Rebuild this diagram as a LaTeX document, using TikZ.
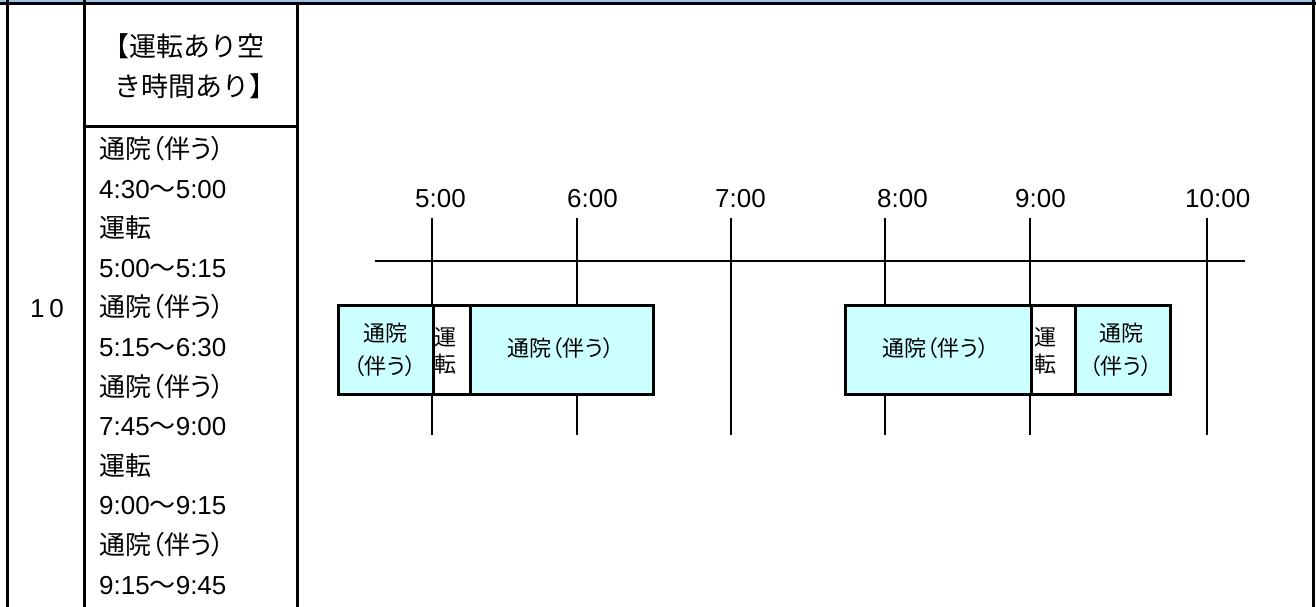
\documentclass[tikz,border=0pt]{standalone}
\usepackage{fontspec}
\setmainfont{Liberation Sans}
\newfontfamily\jp[RawFeature=+palt]{Noto Sans CJK JP}
\newfontfamily\jpf{Noto Sans CJK JP}
\definecolor{bandblue}{HTML}{9DC3E6}
\definecolor{cyanfill}{HTML}{CCFFFF}
\tikzset{
  border/.style={line width=3pt},
  axisline/.style={line width=2pt},
  segbox/.style={draw, line width=2.7pt, inner sep=0pt, anchor=north west},
  nursebox/.style={segbox, fill=cyanfill},
  drivebox/.style={segbox, fill=white},
  coltext/.style={inner sep=0pt, anchor=base west, font=\fontsize{26}{26}\selectfont},
  headtext/.style={inner sep=0pt, anchor=base, font=\jpf\fontsize{27}{27}\selectfont},
  ticktext/.style={inner sep=0pt, anchor=base west, font=\fontsize{26}{26}\selectfont},
  boxtext/.style={inner sep=0pt, anchor=base, font=\jp\fontsize{22}{22}\selectfont},
}
\begin{document}
\begin{tikzpicture}[x=1pt,y=-1pt]
\useasboundingbox (0,0) rectangle (1316,607);
% top band
\fill[bandblue] (0,0) rectangle (1316,2.2);
\draw[line width=2.5pt] (0,3.5) -- (1316,3.5);
% table lines
\draw[border] (7.4,0) -- (7.4,607);
\draw[border] (84.5,0) -- (84.5,607);
\draw[border] (297.5,3.3) -- (297.5,607);
\draw[border] (1313.4,0) -- (1313.4,607);
\draw[border] (84.5,127) -- (297.5,127);
% header
\node[headtext] (h1) at (183,57) {【運転あり空};
\node[headtext] (h2) at (195,97) {き時間あり】};
% row number
\node[inner sep=0pt, anchor=base, font=\fontsize{26}{26}\selectfont] (num) at (47,317) {1\kern5pt0};
% schedule list
\node[coltext] (l1) at (99,158.4) {\jp 通院（伴う）};
\node[coltext] (l2) at (99,198.0) {4:30{\jpf 〜}5:00};
\node[coltext] (l3) at (99,237.6) {\jp 運転};
\node[coltext] (l4) at (99,277.2) {5:00{\jpf 〜}5:15};
\node[coltext] (l5) at (99,316.8) {\jp 通院（伴う）};
\node[coltext] (l6) at (99,356.4) {5:15{\jpf 〜}6:30};
\node[coltext] (l7) at (99,396.0) {\jp 通院（伴う）};
\node[coltext] (l8) at (99,435.6) {7:45{\jpf 〜}9:00};
\node[coltext] (l9) at (99,475.2) {\jp 運転};
\node[coltext] (l10) at (99,514.8) {9:00{\jpf 〜}9:15};
\node[coltext] (l11) at (99,554.4) {\jp 通院（伴う）};
\node[coltext] (l12) at (99,594.0) {9:15{\jpf 〜}9:45};
% timeline
\draw[axisline] (375,261) -- (1245,261);
\foreach \x/\lx/\t in {432/415/5:00, 577/567/6:00, 731/715/7:00, 885/877/8:00, 1030/1015/9:00, 1207/1185/10:00}{
  \draw[axisline] (\x,218) -- (\x,435);
  \node[ticktext] (t\x) at (\lx,207) {\t};
}
% segments
\node[nursebox, minimum width=95pt, minimum height=89pt] (b1) at (337,304) {};
\node[drivebox, minimum width=37pt, minimum height=89pt] (b2) at (432,304) {};
\node[nursebox, minimum width=183pt, minimum height=89pt] (b3) at (469,304) {};
\node[nursebox, minimum width=186pt, minimum height=89pt] (b4) at (844,304) {};
\node[drivebox, minimum width=44pt, minimum height=89pt] (b5) at (1030,304) {};
\node[nursebox, minimum width=95pt, minimum height=89pt] (b6) at (1074,304) {};
% segment labels
\node[boxtext] (b1a) at (385,341) {通院};
\node[boxtext] (b1b) at (385,374) {（伴う）};
\node[boxtext] (b2a) at (445,345) {運};
\node[boxtext] (b2b) at (445,372) {転};
\node[boxtext] (b3a) at (561,356) {通院（伴う）};
\node[boxtext] (b4a) at (936,356) {通院（伴う）};
\node[boxtext] (b5a) at (1045,345) {運};
\node[boxtext] (b5b) at (1045,372) {転};
\node[boxtext] (b6a) at (1121,341) {通院};
\node[boxtext] (b6b) at (1121,374) {（伴う）};
\end{tikzpicture}
\end{document}
